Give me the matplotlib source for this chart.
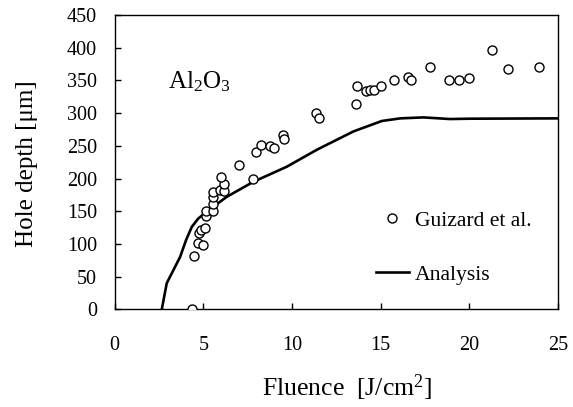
import matplotlib
matplotlib.use("Agg")
import matplotlib.pyplot as plt
from matplotlib.lines import Line2D

plt.rcParams['font.family'] = ['Liberation Serif', 'DejaVu Serif']
plt.rcParams['mathtext.fontset'] = 'custom'
plt.rcParams['mathtext.rm'] = 'Liberation Serif'
plt.rcParams['mathtext.it'] = 'Liberation Serif:italic'
plt.rcParams['mathtext.default'] = 'regular'

# Experimental data (Guizard et al.)
exp_fluence = [4.37, 4.50, 4.70, 4.97, 4.76, 4.87, 5.10, 5.16, 5.14, 5.57, 5.57, 5.57,
               5.57, 5.94, 6.17, 6.17, 5.98, 7.00, 7.79, 7.98, 8.28, 8.78, 8.99, 9.48,
               9.54, 11.36, 11.51, 13.58, 13.64, 14.18, 14.42, 14.65, 15.03, 15.74,
               16.55, 16.68, 17.77, 18.84, 19.44, 19.99, 21.30, 22.15, 23.92]
exp_depth = [1, 81, 101, 99, 116, 121, 125, 142, 151, 151, 161, 172,
             180, 182, 181, 191, 202, 221, 199, 240, 251, 250, 246, 266,
             261, 300, 292, 314, 341, 334, 335, 335, 341, 351,
             356, 350, 370, 350, 350, 354, 396, 367, 370]

# Analysis curve
ana_fluence = [2.66, 2.94, 3.69, 4.03, 4.35, 4.72, 5.57, 6.32, 7.82, 9.7, 11.4, 13.46,
               15.06, 16.1, 17.4, 18.9, 20.0, 25.0]
ana_depth = [0, 40, 80, 106, 126, 139, 157, 172, 195, 218, 244, 272,
             288, 292, 293.5, 291, 291.5, 292]

xticks = [0, 5, 10, 15, 20, 25]
yticks = list(range(0, 451, 50))

fig = plt.figure(figsize=(5.73, 4.07), dpi=100)
ax = fig.add_axes([0.2, 0.24, 0.774, 0.723])

ax.plot(exp_fluence, exp_depth, linestyle='none', marker='o', markersize=6.5,
        markerfacecolor='white', markeredgecolor='black', markeredgewidth=1.0, zorder=3)
ax.plot(ana_fluence, ana_depth, color='black', linewidth=1.9, zorder=2)

ax.set_xlim(0, 25)
ax.set_ylim(0, 450)
ax.set_xticks(xticks)
ax.set_yticks(yticks)
ax.tick_params(direction='in', length=4.5, width=1, labelsize=14.5)
ax.tick_params(axis='x', pad=19)
ax.tick_params(axis='y', pad=12.5)
for s in ax.spines.values():
    s.set_linewidth(1.0)

ax.set_xlabel('Fluence  [J/cm$^2$]', fontsize=18.5)
ax.xaxis.set_label_coords(0.525, -0.216)
ax.set_ylabel('Hole depth [\u03bcm]', fontsize=18)
ax.yaxis.set_label_coords(-0.173, 0.495)

ax.text(3.0, 338, 'Al$_2$O$_3$', fontsize=18)

handles = [Line2D([], [], linestyle='none', marker='o', markersize=6.5,
                  markerfacecolor='white', markeredgecolor='black', markeredgewidth=1.0),
           Line2D([], [], color='black', linewidth=1.9)]
ax.legend(handles, ['Guizard et al.', 'Analysis'], loc='center left',
          bbox_to_anchor=(0.5895, 0.210), frameon=False, fontsize=15.6,
          labelspacing=1.56, handlelength=1.5, handletextpad=0.3,
          borderpad=0, borderaxespad=0)

fig.savefig('out.png', dpi=100)
